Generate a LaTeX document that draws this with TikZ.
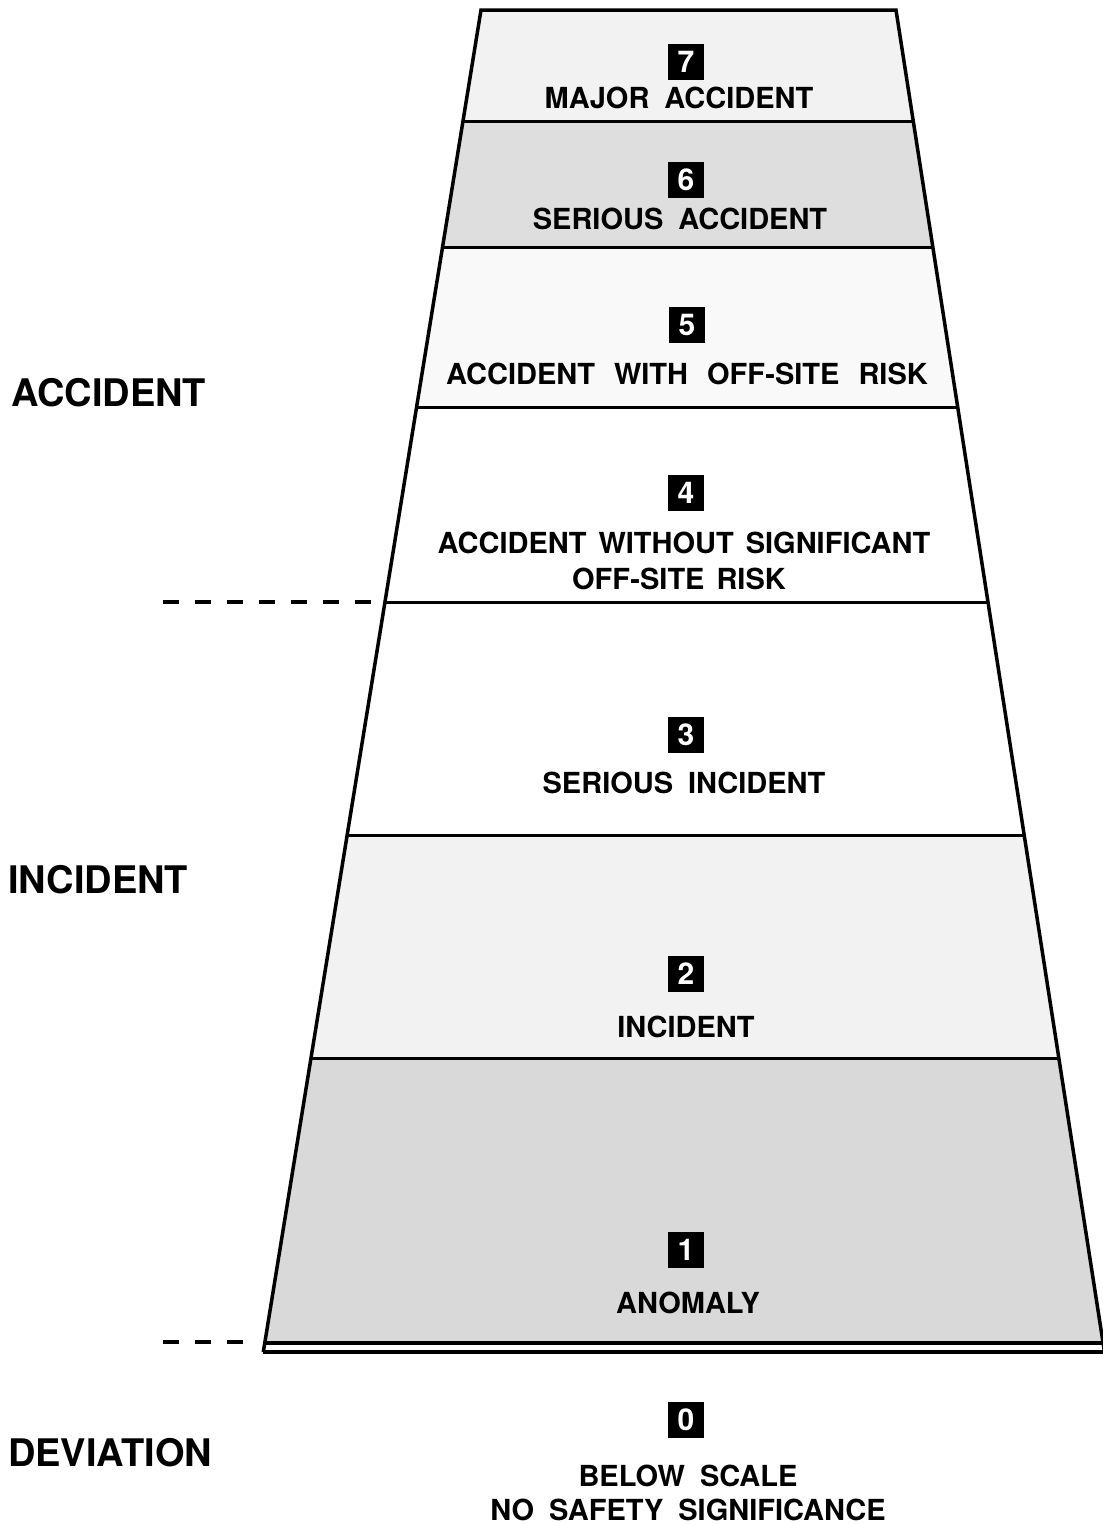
\documentclass[tikz,border=0pt]{standalone}
\usepackage{fontspec}
\setmainfont{TeX Gyre Heros}
\newcommand\wsp{\hspace{15pt}}
\newcommand\wspw{\hspace{19pt}}
\newcommand\wspn{\hspace{12pt}}
\begin{document}
\begin{tikzpicture}[x=1pt,y=-1pt,
  edge/.style={line width=3.5pt, line join=miter},
  sepline/.style={line width=3pt},
  numbox/.style={fill=black, text=white, minimum size=36pt, inner sep=0pt, font=\fontsize{30}{30}\selectfont\bfseries},
  bandtext/.style={anchor=base, inner sep=0pt, font=\fontsize{29}{34}\selectfont\bfseries},
  sidetext/.style={anchor=base west, inner sep=0pt, font=\fontsize{38}{42}\selectfont\bfseries},
  dashline/.style={line width=4pt, dash pattern=on 16pt off 16pt}
]
\useasboundingbox (0,0) rectangle (1103,1524);
\fill[white] (0,0) rectangle (1103,1524);

% corners of the trapezoid bands
\coordinate (L0) at (481,10);    \coordinate (R0) at (896,10);
\coordinate (L1) at (463,121);   \coordinate (R1) at (913.3,121);
\coordinate (L2) at (442.6,247); \coordinate (R2) at (932.8,247);
\coordinate (L3) at (416.6,407); \coordinate (R3) at (957.7,407);
\coordinate (L4) at (385,602);   \coordinate (R4) at (988,602);
\coordinate (L5) at (347.2,835); \coordinate (R5) at (1024.2,835);
\coordinate (L6) at (311,1058);  \coordinate (R6) at (1058.9,1058);
\coordinate (L7) at (264.8,1343);\coordinate (R7) at (1103.1,1343);
\coordinate (L8) at (263.3,1352);\coordinate (R8) at (1104.5,1352);

% band shading
\fill[gray!10] (L0) -- (R0) -- (R1) -- (L1) -- cycle;
\fill[gray!26] (L1) -- (R1) -- (R2) -- (L2) -- cycle;
\fill[gray!5]  (L2) -- (R2) -- (R3) -- (L3) -- cycle;
\fill[gray!10] (L5) -- (R5) -- (R6) -- (L6) -- cycle;
\fill[gray!30] (L6) -- (R6) -- (R7) -- (L7) -- cycle;

% separating lines
\draw[sepline] (L1) -- (R1);
\draw[sepline] (L2) -- (R2);
\draw[sepline] (L3) -- (R3);
\draw[sepline] (L4) -- (R4);
\draw[sepline] (L5) -- (R5);
\draw[sepline] (L6) -- (R6);
\draw[line width=3.5pt] (L7) -- (R7);
\draw[line width=4pt] (L8) -- (R8);

% outline
\draw[edge] (L8) -- (L0) -- (R0) -- (R8);

% dashed level markers
\coordinate (d1s) at (163,602);
\coordinate (d2s) at (163,1342);
\coordinate (d2e) at (245,1342);
\draw[dashline] (d1s) -- (L4);
\draw[dashline] (d2s) -- (d2e);

% side labels
\node[sidetext] (sA) at (11,406.5) {ACCIDENT};
\node[sidetext] (sI) at (8,893.5) {INCIDENT};
\node[sidetext] (sD) at (8,1466.5) {DEVIATION};

% level numbers and names
\node[numbox] (n7) at (686,62) {7};
\node[bandtext] (t7) at (679,108) {MAJOR\wsp ACCIDENT};
\node[numbox] (n6) at (686,180) {6};
\node[bandtext] (t6) at (680,229.5) {SERIOUS\wsp ACCIDENT};
\node[numbox] (n5) at (687,325) {5};
\node[bandtext] (t5) at (687,384.5) {ACCIDENT\wspw WITH\wspw OFF-SITE\wspw RISK};
\node[numbox] (n4) at (686,493) {4};
\node[bandtext] (t4a) at (684,553) {ACCIDENT\wspn WITHOUT\wspn SIGNIFICANT};
\node[bandtext] (t4b) at (679,589) {OFF-SITE\wspn RISK};
\node[numbox] (n3) at (686,735) {3};
\node[bandtext] (t3) at (684,793.5) {SERIOUS\wsp INCIDENT};
\node[numbox] (n2) at (686,974) {2};
\node[bandtext] (t2) at (686,1037.5) {INCIDENT};
\node[numbox] (n1) at (686,1250) {1};
\node[bandtext] (t1) at (688,1313.5) {ANOMALY};
\node[numbox] (n0) at (686,1420) {0};
\node[bandtext] (t0a) at (688,1486.5) {BELOW\wsp SCALE};
\node[bandtext] (t0b) at (688,1520.5) {NO\wsp SAFETY\wsp SIGNIFICANCE};
\end{tikzpicture}
\end{document}
